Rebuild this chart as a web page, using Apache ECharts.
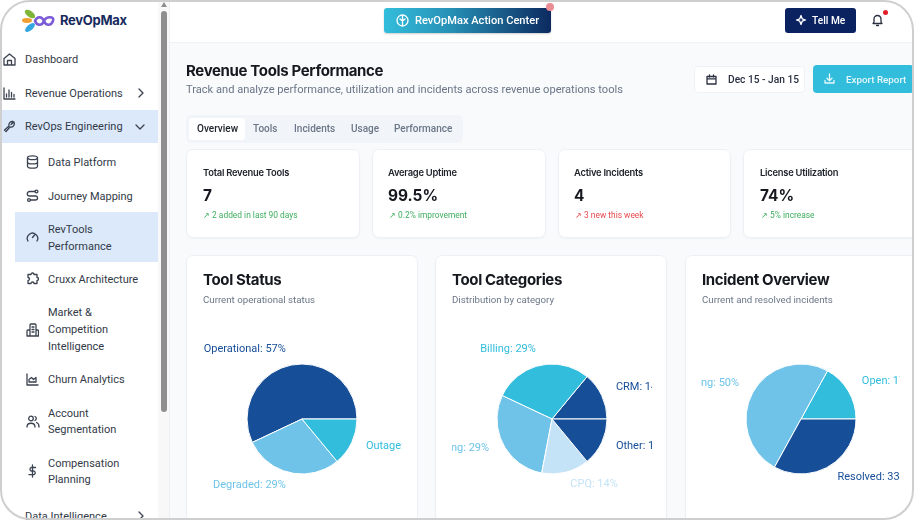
<!DOCTYPE html>
<html lang="en">
<head>
<meta charset="UTF-8">
<title>Revenue Tools Performance</title>
<script src="https://cdn.jsdelivr.net/npm/echarts@6/dist/echarts.min.js"></script>
<style>
    html, body { margin: 0; padding: 0; width: 914px; height: 520px; overflow: hidden; background: #f8fafc; font-family: Roboto, sans-serif; }
    #page { position: absolute; left: 0; top: 0; width: 914px; height: 520px; overflow: hidden; filter: blur(0.45px); }
    .abs, .card, .t, svg.i { position: absolute; }
    .t { white-space: nowrap; }
    .card { background: #fff; border: 1px solid #edf0f5; border-radius: 7px; box-sizing: border-box; box-shadow: 0 1px 2px rgba(15,23,42,.04); }
    .nav { font-size: 11px; color: #333a47; line-height: 17px; }
    svg.i { fill: none; stroke: #3b4250; stroke-width: 1.3; stroke-linecap: round; stroke-linejoin: round; }
    .st-title { font: 600 9.4px/14px Inter, sans-serif; color: #20242c; letter-spacing: -.25px; }
    .st-val { font: 700 15.4px/20px Inter, sans-serif; color: #15181e; }
    .st-sub { font-size: 8.4px; line-height: 12px; }
    .h2 { font: 700 15px/20px Inter, sans-serif; color: #15181e; letter-spacing: -.35px; }
    .sub { font-size: 9.7px; line-height: 14px; color: #6b7687; }
    .tab { font-size: 10px; font-weight: 500; color: #6b7687; line-height: 14px; }
    .clip { position: absolute; top: 335px; height: 175px; overflow: hidden; }
    .chart { position: absolute; top: 0; left: -150px; width: 500px; height: 175px; }
    #frame { position: absolute; left: 0; top: 0; width: 914px; height: 520px; box-sizing: border-box; border: 2px solid #cfcfcf; border-radius: 30px; box-shadow: 0 0 0 30px #fff; pointer-events: none; }
</style>
</head>
<body>
<div id="page">
    <!-- header and sidebar -->
    <div class="abs" style="left:0;top:0;width:914px;height:42px;background:#fff;border-bottom:1px solid #eef1f5"></div>
    <div class="abs" style="left:0;top:0;width:158px;height:520px;background:#fff"></div>
    <div class="abs" style="left:158px;top:0;width:11px;height:520px;background:#f8f8f9;border-right:1px solid #eef0f3"></div>
    <div class="abs" style="left:160.5px;top:11px;width:6.5px;height:401px;background:#8e8e8e;border-radius:3px"></div>
    <div class="abs" style="left:160.5px;top:2px;border:3.5px solid transparent;border-bottom:5px solid #8e8e8e;border-top:0"></div>

    <!-- logo -->
    <svg class="abs" style="left:21px;top:8px" width="36" height="26" viewBox="0 0 36 26">
        <ellipse cx="9" cy="6" rx="6" ry="3" fill="#7fb539" transform="rotate(35 9 6)"/>
        <ellipse cx="6" cy="12.5" rx="5" ry="2.4" fill="#f0a030"/>
        <ellipse cx="9" cy="19.5" rx="6" ry="2.8" fill="#35a7e0" transform="rotate(-40 9 19.5)"/>
        <path d="M14 13c2-5 7-5 9 0s7 5 9 0-7-5-9 0-7 5-9 0z" fill="none" stroke="#7b5bd6" stroke-width="2.6"/>
    </svg>
    <div class="t" style="left:60px;top:12px;font:700 13px/17px Inter,sans-serif;color:#172a5e;letter-spacing:-.3px">RevOpMax</div>

    <div class="abs" style="left:0;top:110px;width:158px;height:33px;background:#dbe9fb"></div>
    <div class="abs" style="left:15px;top:212px;width:143px;height:50px;background:#dbe9fb"></div>

    <div class="t nav" style="left:25px;top:51px">Dashboard</div>
    <div class="t nav" style="left:25px;top:85px">Revenue Operations</div>
    <div class="t nav" style="left:25px;top:118px">RevOps Engineering</div>
    <div class="t nav" style="left:48px;top:154px">Data Platform</div>
    <div class="t nav" style="left:48px;top:188px">Journey Mapping</div>
    <div class="t nav" style="left:48px;top:221px">RevTools</div>
    <div class="t nav" style="left:48px;top:238px">Performance</div>
    <div class="t nav" style="left:48px;top:271px">Cruxx Architecture</div>
    <div class="t nav" style="left:48px;top:304px">Market &amp;</div>
    <div class="t nav" style="left:48px;top:321px">Competition</div>
    <div class="t nav" style="left:48px;top:338px">Intelligence</div>
    <div class="t nav" style="left:48px;top:371px">Churn Analytics</div>
    <div class="t nav" style="left:48px;top:405px">Account</div>
    <div class="t nav" style="left:48px;top:421px">Segmentation</div>
    <div class="t nav" style="left:48px;top:455px">Compensation</div>
    <div class="t nav" style="left:48px;top:471px">Planning</div>
    <div class="t nav" style="left:25px;top:508px">Data Intelligence</div>

    <svg class="i" style="left:3px;top:53px" width="13" height="13" viewBox="0 0 13 13"><path d="M1 5.5 6.5 1 12 5.5V12H1zM4.5 12V7.5h4V12"/></svg>
    <svg class="i" style="left:3px;top:87px" width="13" height="13" viewBox="0 0 13 13"><path d="M1 1v11h11M3.5 10V7M6 10V3M8.5 10V5.5M11 10V7.5"/></svg>
    <svg class="i" style="left:3px;top:120px" width="13" height="13" viewBox="0 0 13 13"><path d="M8 4.5 11 2a3.5 3.5 0 0 1-4 5l-4 4.5-1.5-1.5L6 6a3.5 3.5 0 0 1 4-4.5z"/></svg>
    <svg class="i" style="left:137px;top:88px" width="8" height="10" viewBox="0 0 8 10"><path d="m2 1 4 4-4 4"/></svg>
    <svg class="i" style="left:135px;top:123px" width="10" height="8" viewBox="0 0 10 8"><path d="m1 2 4 4 4-4"/></svg>
    <svg class="i" style="left:26px;top:155px" width="13" height="14" viewBox="0 0 13 14"><ellipse cx="6.5" cy="2.7" rx="5" ry="1.9"/><path d="M1.5 2.7v8.6c0 1 2.2 1.9 5 1.9s5-.9 5-1.9V2.7M1.5 7c0 1 2.2 1.9 5 1.9s5-.9 5-1.9"/></svg>
    <svg class="i" style="left:26px;top:189px" width="13" height="14" viewBox="0 0 13 14"><circle cx="10.5" cy="2.5" r="1.4"/><circle cx="3" cy="11" r="1.4"/><path d="M9 2.5H3.5a2 2 0 0 0 0 4.5h6a2 2 0 0 1 0 4H4.5"/></svg>
    <svg class="i" style="left:26px;top:231px" width="13" height="12" viewBox="0 0 13 12"><path d="M2 10a5.2 5.2 0 1 1 9 0M6.5 6.5l2-2.5"/></svg>
    <svg class="i" style="left:26px;top:272px" width="13" height="13" viewBox="0 0 13 13"><path d="M5 2.5a1.5 1.5 0 0 1 3 0h3v3a1.5 1.5 0 0 1 0 3v3H8a1.5 1.5 0 0 0-3 0H2V8.5a1.5 1.5 0 0 0 0-3v-3z"/></svg>
    <svg class="i" style="left:26px;top:323px" width="13" height="14" viewBox="0 0 13 14"><path d="M4 13V2a1 1 0 0 1 1-1h4a1 1 0 0 1 1 1v11zM4 7H2a1 1 0 0 0-1 1v5h3M10 7h1.5a1 1 0 0 1 1 1v5H10M6 4h2M6 6.5h2M6 9h2"/></svg>
    <svg class="i" style="left:26px;top:373px" width="13" height="13" viewBox="0 0 13 13"><path d="M1 1v11h11M3 9V6.5l2.5-2 2 2 2.500-2V9z"/></svg>
    <svg class="i" style="left:26px;top:415px" width="14" height="13" viewBox="0 0 14 13"><circle cx="5" cy="3.5" r="2.3"/><path d="M1 12c0-5 8-5 8 0M9 1.5a2.2 2.2 0 0 1 0 4M10.500 7.500c1.500.5 2.500 2 2.500 4.500"/></svg>
    <svg class="i" style="left:26px;top:464px" width="13" height="14" viewBox="0 0 13 14"><path d="M6.5 1v12M9.5 3.5H5a2 2 0 0 0 0 3.500h3a2 2 0 0 1 0 3.700H3"/></svg>
    <svg class="i" style="left:137px;top:511px" width="8" height="10" viewBox="0 0 8 10"><path d="m2 1 4 4-4 4"/></svg>

    <!-- header buttons -->
    <div class="abs" style="left:384px;top:8px;width:167px;height:25px;border-radius:3px;background:linear-gradient(90deg,#33bddc 0%,#2790b5 40%,#0c2a60 100%);box-shadow:0 1px 2px rgba(0,0,0,.2)"></div>
    <svg class="i" style="left:396px;top:14px;stroke:#fff" width="13" height="13" viewBox="0 0 13 13"><circle cx="6.5" cy="6.5" r="5.5"/><path d="M6.5 2v9M4 5l2.500 2L9 5"/></svg>
    <div class="t" style="left:415px;top:13px;font-size:11.1px;font-weight:500;color:#fff;line-height:15px">RevOpMax Action Center</div>
    <div class="abs" style="left:546px;top:3px;width:8px;height:8px;border-radius:50%;background:#ea8d94"></div>

    <div class="abs" style="left:785px;top:8px;width:71px;height:25px;border-radius:3px;background:#0b2260"></div>
    <svg class="i" style="left:795px;top:14px;stroke:#fff" width="12" height="12" viewBox="0 0 12 12"><path d="M6 1.5 7.200 4.800 10.500 6 7.200 7.200 6 10.500 4.800 7.200 1.500 6 4.800 4.800z"/></svg>
    <div class="t" style="left:812px;top:13px;font-size:10.2px;font-weight:500;color:#fff;line-height:15px">Tell Me</div>
    <svg class="i" style="left:871px;top:14px;stroke:#2a3040" width="13" height="13" viewBox="0 0 13 13"><path d="M2 9.500h9L10 8V5a3.500 3.500 0 0 0-7 0v3zM5.500 11.500h2"/></svg>
    <div class="abs" style="left:883px;top:10px;width:5px;height:5px;border-radius:50%;background:#e11d2a"></div>

    <!-- page title -->
    <div class="t" style="left:186px;top:61px;font:700 15px/20px Inter,sans-serif;color:#15181e;letter-spacing:-.35px">Revenue Tools Performance</div>
    <div class="t" style="left:186px;top:82px;font-size:11.1px;line-height:15px;color:#6b7687">Track and analyze performance, utilization and incidents across revenue operations tools</div>

    <div class="abs" style="left:694px;top:66px;width:111px;height:27px;background:#fff;border:1px solid #eff1f5;border-radius:4px;box-sizing:border-box"></div>
    <svg class="i" style="left:706px;top:74px;stroke:#2a3040" width="11" height="11" viewBox="0 0 11 11"><path d="M1 2.500h9V10H1zM1 4.800h9M3.500 1v2M7.500 1v2"/></svg>
    <div class="t" style="left:728px;top:72px;font-size:10.2px;font-weight:500;color:#2a3040;line-height:15px">Dec 15 - Jan 15</div>
    <div class="abs" style="left:813px;top:65px;width:101px;height:28px;background:#33bddc;border-radius:4px"></div>
    <svg class="i" style="left:824px;top:73px;stroke:#e6f8fc" width="11" height="11" viewBox="0 0 11 11"><path d="M1 7.500V10h9V7.500M5.500 1v6.500M3 5.200l2.500 2.500L8 5.200"/></svg>
    <div class="t" style="left:846px;top:72px;font-size:9.8px;font-weight:500;color:#e6f8fc;line-height:15px">Export Report</div>

    <!-- tabs -->
    <div class="abs" style="left:186px;top:115px;width:277px;height:28px;background:#f1f5f9;border-radius:5px"></div>
    <div class="abs" style="left:189px;top:118px;width:56px;height:22px;background:#fff;border-radius:3px"></div>
    <div class="t tab" style="left:197px;top:122px;color:#20242c">Overview</div>
    <div class="t tab" style="left:253px;top:122px">Tools</div>
    <div class="t tab" style="left:294px;top:122px">Incidents</div>
    <div class="t tab" style="left:351px;top:122px">Usage</div>
    <div class="t tab" style="left:394px;top:122px">Performance</div>

    <!-- stat cards -->
    <div class="card" style="left:186px;top:149px;width:174px;height:89px"></div>
    <div class="card" style="left:372px;top:149px;width:174px;height:89px"></div>
    <div class="card" style="left:558px;top:149px;width:173px;height:89px"></div>
    <div class="card" style="left:743px;top:149px;width:190px;height:89px"></div>

    <div class="t st-title" style="left:203px;top:166px">Total Revenue Tools</div>
    <div class="t st-val" style="left:203px;top:186px">7</div>
    <div class="t st-sub" style="left:203px;top:209px;color:#3fae5f">&#8599; 2 added in last 90 days</div>
    <div class="t st-title" style="left:388px;top:166px">Average Uptime</div>
    <div class="t st-val" style="left:388px;top:186px">99.5%</div>
    <div class="t st-sub" style="left:389px;top:209px;color:#3fae5f">&#8599; 0.2% improvement</div>
    <div class="t st-title" style="left:574px;top:166px">Active Incidents</div>
    <div class="t st-val" style="left:574px;top:186px">4</div>
    <div class="t st-sub" style="left:575px;top:209px;color:#e5484d">&#8599; 3 new this week</div>
    <div class="t st-title" style="left:760px;top:166px">License Utilization</div>
    <div class="t st-val" style="left:760px;top:186px">74%</div>
    <div class="t st-sub" style="left:761px;top:209px;color:#3fae5f">&#8599; 5% increase</div>

    <!-- chart cards -->
    <div class="card" style="left:186px;top:255px;width:232px;height:280px"></div>
    <div class="card" style="left:435px;top:255px;width:232px;height:280px"></div>
    <div class="card" style="left:685px;top:255px;width:250px;height:280px"></div>

    <div class="t h2" style="left:203px;top:270px">Tool Status</div>
    <div class="t sub" style="left:203px;top:293px">Current operational status</div>
    <div class="t h2" style="left:452px;top:270px">Tool Categories</div>
    <div class="t sub" style="left:452px;top:293px">Distribution by category</div>
    <div class="t h2" style="left:702px;top:270px">Incident Overview</div>
    <div class="t sub" style="left:702px;top:293px">Current and resolved incidents</div>

    <!-- the charts are wider than the clip boxes, labels get cut like in the app -->
    <div class="clip" style="left:203px;width:199px"><div class="chart" id="chartStatus" style="left:-151px"></div></div>
    <div class="clip" style="left:452px;width:200px"><div class="chart" id="chartCategories"></div></div>
    <div class="clip" style="left:701px;width:199px"><div class="chart" id="chartIncidents"></div></div>
</div>
<div id="frame"></div>

<script>
    var DARK = '#174e98', CYAN = '#33bddc', SKY = '#6fc3e8', PALE = '#c5e3f6';

    var statusNames = ['Operational', 'Degraded', 'Outage'];
    var statusValues = [57, 29, 14];
    var statusColors = [DARK, SKY, CYAN];

    var categoryNames = ['CRM', 'Billing', 'Marketing', 'CPQ', 'Other'];
    var categoryValues = [14, 29, 29, 14, 14];
    var categoryColors = [DARK, CYAN, SKY, PALE, DARK];

    var incidentNames = ['Open', 'Investigating', 'Resolved'];
    var incidentValues = [17, 50, 33];
    var incidentColors = [CYAN, SKY, DARK];

    function drawPie(id, names, values, colors) {
        var chart = echarts.init(document.getElementById(id));
        chart.setOption({
            animation: false,
            series: [{
                type: 'pie',
                radius: 55,
                center: ['50%', 84],
                startAngle: 0,
                clockwise: false,
                avoidLabelOverlap: false,
                silent: true,
                itemStyle: { borderColor: '#fff', borderWidth: 1 },
                labelLine: { show: false, length: 14.5, length2: 0 },
                labelLayout: { dy: -2 },
                label: {
                    show: true,
                    position: 'outside',
                    distanceToLabelLine: 1,
                    fontFamily: 'Roboto',
                    fontSize: 11,
                    formatter: function (p) { return p.name + ': ' + p.value + '%'; }
                },
                data: names.map(function (n, i) {
                    return {
                        name: n,
                        value: values[i],
                        itemStyle: { color: colors[i] },
                        label: { color: colors[i] }
                    };
                })
            }]
        });
    }

    drawPie('chartStatus', statusNames, statusValues, statusColors);
    drawPie('chartCategories', categoryNames, categoryValues, categoryColors);
    drawPie('chartIncidents', incidentNames, incidentValues, incidentColors);
</script>
</body>
</html>
